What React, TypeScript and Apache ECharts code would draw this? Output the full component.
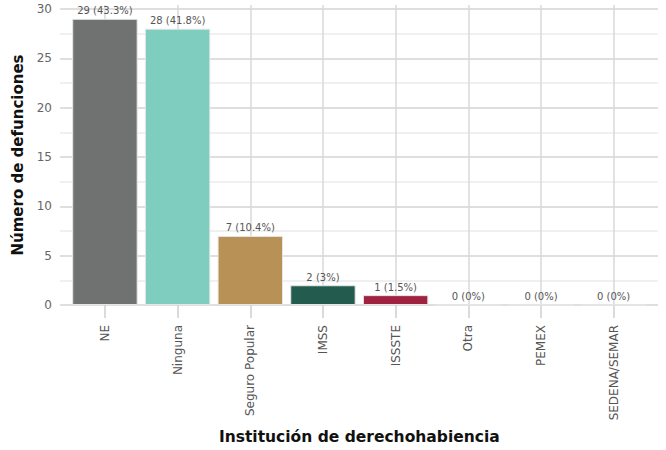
import React, { useEffect, useRef } from "react";
import * as echarts from "echarts";

const categories = ["NE", "Ninguna", "Seguro Popular", "IMSS", "ISSSTE", "Otra", "PEMEX", "SEDENA/SEMAR"];
const deaths = [29, 28, 7, 2, 1, 0, 0, 0];
const percents = ["43.3", "41.8", "10.4", "3", "1.5", "0", "0", "0"];
const barColors = ["#6f7271", "#7fcdbf", "#b89157", "#235b4e", "#9f2241", "#6f7271", "#6f7271", "#6f7271"];
const yTitle = "Número de defunciones";
const xTitle = "Institución de derechohabiencia";

const FONT = "DejaVu Sans";

export default function App() {
  const ref = useRef<HTMLDivElement>(null);
  useEffect(() => {
    if (!ref.current) return;
    const chart = echarts.init(ref.current, null, { renderer: "svg" });
    const top = 5;
    const bottom = 145;
    chart.setOption({
      animation: false,
      backgroundColor: "#ffffff",
      grid: [
        { left: 60, right: 8, top, bottom },
        { left: 68.6, right: 16, top, bottom },
      ],
      xAxis: [
        { gridIndex: 0, type: "category", data: categories, show: false },
        {
          gridIndex: 1,
          type: "category",
          data: categories,
          name: xTitle,
          nameLocation: "middle",
          nameGap: 124,
          nameTextStyle: { fontFamily: FONT, fontWeight: "bold", fontSize: 15.5, color: "#111" },
          axisLine: { show: false },
          axisTick: { show: true, alignWithLabel: true, length: 13, interval: 0, lineStyle: { color: "#cfcfcf", width: 1.5 } },
          splitLine: { show: true, alignWithLabel: true, interval: 0, lineStyle: { color: "#d9d9d9", width: 1.5 } },
          axisLabel: { rotate: 90, interval: 0, margin: 20, fontFamily: FONT, fontSize: 12, color: "#555" },
        },
      ],
      yAxis: [
        {
          gridIndex: 0,
          type: "value",
          min: 0,
          max: 30.4,
          interval: 2.5,
          name: yTitle,
          nameLocation: "middle",
          nameGap: 25,
          nameTextStyle: { fontFamily: FONT, fontWeight: "bold", fontSize: 15, color: "#111" },
          axisLine: { show: false },
          axisTick: { show: false },
          axisLabel: {
            margin: 8,
            fontFamily: FONT,
            fontSize: 12,
            color: "#666",
            showMaxLabel: false,
            formatter: (v: number) => (Math.abs(v % 5) < 1e-6 ? String(v) : ""),
          },
          splitLine: { show: true, showMaxLine: false, lineStyle: { color: ["#d4d4d4", "#ebebeb"], width: 1.5 } },
        },
        { gridIndex: 1, type: "value", min: 0, max: 30.4, show: false, splitLine: { show: false } },
      ],
      series: [
        {
          type: "bar",
          xAxisIndex: 1,
          yAxisIndex: 1,
          barWidth: "90%",
          data: deaths.map((v, i) => ({ value: v, itemStyle: { color: barColors[i] } })),
          itemStyle: { borderColor: "#e6e6e6", borderWidth: 1 },
          label: {
            show: true,
            position: "top",
            distance: 3,
            fontFamily: FONT,
            fontSize: 10,
            color: "#555",
            formatter: (p: any) => `${deaths[p.dataIndex]} (${percents[p.dataIndex]}%)`,
          },
        },
      ],
    });
    return () => chart.dispose();
  }, []);
  return <div ref={ref} style={{ width: 666, height: 450, position: "absolute", left: 0, top: 0 }} />;
}
